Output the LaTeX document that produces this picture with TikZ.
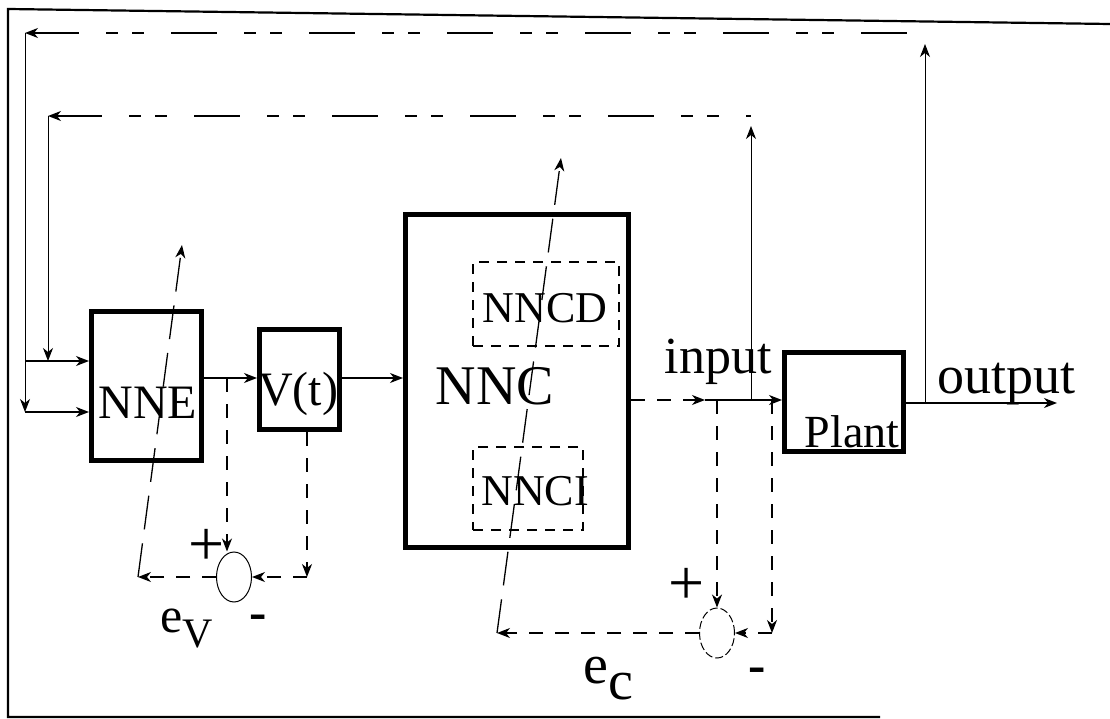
\documentclass[tikz,border=0pt]{standalone}
\usepackage{fontspec}
\setmainfont{Liberation Serif}
\usetikzlibrary{arrows.meta,shapes.geometric}
\tikzset{
  blk/.style={draw, line width=5pt, inner sep=0pt},
  sub/.style={draw, line width=1.2pt, dash pattern=on 10pt off 8pt, inner sep=0pt},
  sumnode/.style={draw, ellipse, line width=1pt, inner sep=0pt, minimum width=35pt, minimum height=50pt},
  conn/.style={line width=1.3pt, -{Stealth[length=13pt,width=10pt,inset=4pt]}},
  plainline/.style={line width=1.3pt},
  dsh/.style={conn, dash pattern=on 14pt off 12pt},
  fb/.style={line width=1.5pt, dash pattern=on 46pt off 27pt on 12pt off 14pt on 12pt off 27pt},
  adapt/.style={conn, dash pattern=on 34pt off 14pt},
  lbl/.style={inner sep=0pt, anchor=base},
}
\newcommand{\fsz}[1]{\fontsize{#1}{#1}\selectfont}
\begin{document}
\begin{tikzpicture}[x=1pt,y=-1pt]
\useasboundingbox (0,0) rectangle (1110,719);
% frame
\draw[line width=2.2pt] (1110,24) -- (8,9) -- (8,717) -- (880,717);

% blocks
\node[blk, minimum width=110pt, minimum height=149pt] (NNE) at (146.5,386) {};
\node[blk, minimum width=80pt, minimum height=100pt] (Vt) at (299.5,379.5) {};
\node[blk, minimum width=223pt, minimum height=333pt] (NNC) at (517,381) {};
\node[sub, minimum width=146pt, minimum height=84pt] (NNCDb) at (546,304) {};
\node[sub, minimum width=110pt, minimum height=83pt] (NNCIb) at (528,488.5) {};
\node[blk, minimum width=119pt, minimum height=99pt] (Plant) at (844,402) {};
\node[sumnode] (s1) at (234,577) {};
\node[sumnode, dash pattern=on 8pt off 3pt] (s2) at (717,633) {};

% texts
\node[lbl] (tNNE) at (148,418) {\fsz{48}NNE};
\node[lbl] (tVt) at (298,405) {\fsz{48}V(t)};
\node[lbl] (tNNC) at (495,404) {\fsz{56}NNC};
\node[lbl] (tNNCD) at (545,322) {\fsz{44}NNCD};
\node[lbl] (tNNCI) at (535,505) {\fsz{44}NNCI};
\node[lbl] (tPlant) at (852,447) {\fsz{46}Plant};
\node[lbl] (tin) at (718,373) {\fsz{52}input};
\node[lbl] (tout) at (1006,393) {\fsz{54}output};
\node[inner sep=0pt] (p1) at (207,547) {\fsz{64}+};
\node[inner sep=0pt] (m1) at (258,622) {\fsz{52}\textbf{-}};
\node[inner sep=0pt] (p2) at (687,586) {\fsz{64}+};
\node[inner sep=0pt] (m2) at (757,675) {\fsz{52}\textbf{-}};
\node[inner sep=0pt, anchor=base west] (ev) at (160,632) {\fsz{50}e\raisebox{-15pt}{\fsz{42}V}};
\node[inner sep=0pt, anchor=base west] (ec) at (583,683) {\fsz{56}e\raisebox{-16pt}{\fsz{56}c}};

% coordinates
\coordinate (tl1) at (25,33);
\coordinate (tr1) at (925,33);
\coordinate (ta1) at (925,44);
\coordinate (tl2) at (48,116);
\coordinate (tr2) at (751,116);
\coordinate (ta2) at (751,126);
\coordinate (in1) at (25,361);
\coordinate (k2) at (48,361);
\coordinate (in2) at (25,412);
\coordinate (b1) at (227,378);
\coordinate (c1) at (307,577);
\coordinate (evp) at (138,577);
\coordinate (pv) at (182,245);
\coordinate (ia) at (705,400);
\coordinate (db1) at (717,400);
\coordinate (db2) at (772,400);
\coordinate (ib) at (751,400);
\coordinate (c2) at (772,633);
\coordinate (ecp) at (497,633);
\coordinate (pc) at (561,158);
\coordinate (ob) at (925,403);
\coordinate (oe) at (1057,403);

% feedback loops
\draw[fb, {Stealth[length=13pt,width=10pt,inset=4pt]}-] (tl1) -- (tr1);
\draw[fb, {Stealth[length=13pt,width=10pt,inset=4pt]}-] (tl2) -- (tr2);
\draw[conn, line width=1pt] (tl1) -- (in2);
\draw[conn, line width=1pt] (tl2) -- (k2);
\draw[conn] (in1) -- (NNE.west |- in1);
\draw[conn] (in2) -- (NNE.west |- in2);
\draw[conn, line width=1pt] (ob) -- (ta1);
\draw[conn, line width=1pt] (ib) -- (ta2);

% forward path
\draw[conn] (NNE.east |- b1) -- (Vt.west |- b1);
\draw[conn] (Vt.east |- b1) -- (NNC.west |- b1);
\draw[dsh] (NNC.east |- ia) -- (ia);
\draw[conn] (ia) -- (Plant.west |- ia);
\draw[conn] (Plant.east |- ob) -- (oe);

% error for V(t)
\draw[dsh] (b1) -- (b1 |- s1.north);
\draw[dsh] (Vt.south -| c1) -- (c1);
\draw[dsh] (c1) -- (s1);
\draw[dsh] (s1) -- (evp);
\draw[adapt] (evp) -- (pv);

% error for controller
\draw[dsh] (db1) -- (db1 |- s2.north);
\draw[dsh] (db2) -- (c2);
\draw[dsh] (c2) -- (s2);
\draw[dsh] (s2) -- (ecp);
\draw[adapt] (ecp) -- (pc);
\end{tikzpicture}
\end{document}
